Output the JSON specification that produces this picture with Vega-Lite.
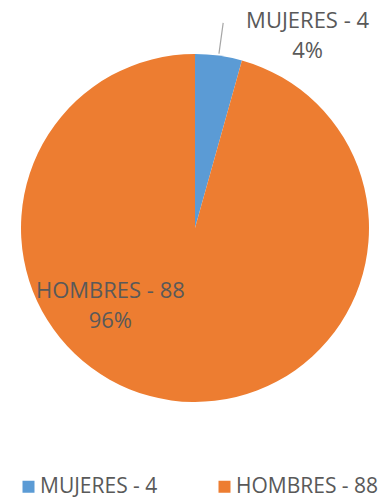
{
  "$schema": "https://vega.github.io/schema/vega-lite/v6.json",
  "width": 390,
  "height": 456,
  "autosize": {"type": "none"},
  "padding": {"left": 0, "top": 0, "right": 0, "bottom": 47},
  "background": "white",
  "data": {"values": [
    {"cat": "MUJERES - 4", "value": 4, "pct": "4%"},
    {"cat": "HOMBRES - 88", "value": 88, "pct": "96%"}
  ]},
  "transform": [
    {"calculate": "datum.cat + '\\n' + datum.pct", "as": "lbl"}
  ],
  "encoding": {
    "theta": {"field": "value", "type": "quantitative", "stack": true},
    "order": {"field": "value", "type": "quantitative", "sort": "ascending"}
  },
  "layer": [
    {
      "mark": {"type": "arc", "outerRadius": 174},
      "encoding": {
        "color": {
          "field": "cat", "type": "nominal",
          "scale": {"domain": ["MUJERES - 4", "HOMBRES - 88"], "range": ["#5B9BD5", "#ED7D31"]},
          "legend": {"title": null}
        }
      }
    },
    {
      "mark": {"type": "arc", "radius": 207, "radius2": 176, "padAngle": 1, "fill": null, "strokeWidth": 1.2},
      "encoding": {
        "stroke": {"condition": {"test": "datum.cat === 'MUJERES - 4'", "value": "#A6A6A6"}, "value": null}
      }
    },
    {
      "mark": {"type": "text", "radius": 195, "dx": 86, "dy": -14, "align": "center", "baseline": "middle", "lineBreak": "\n", "lineHeight": 30, "fontSize": 22, "font": "Open Sans", "color": "#595959"},
      "encoding": {
        "text": {"condition": {"test": "datum.cat === 'MUJERES - 4'", "field": "lbl"}, "value": ""}
      }
    },
    {
      "mark": {"type": "text", "radius": 100, "dx": -71, "dy": -36, "align": "center", "baseline": "middle", "lineBreak": "\n", "lineHeight": 30, "fontSize": 22, "font": "Open Sans", "color": "#595959"},
      "encoding": {
        "text": {"condition": {"test": "datum.cat === 'HOMBRES - 88'", "field": "lbl"}, "value": ""}
      }
    }
  ],
  "config": {
    "view": {"stroke": null},
    "legend": {
      "orient": "none",
      "legendX": 18,
      "legendY": 476,
      "direction": "horizontal",
      "symbolType": "square",
      "symbolSize": 144,
      "symbolStrokeWidth": 0,
      "labelFontSize": 21,
      "labelFont": "Open Sans",
      "labelColor": "#595959",
      "labelOffset": 1,
      "columnPadding": 56
    }
  }
}
